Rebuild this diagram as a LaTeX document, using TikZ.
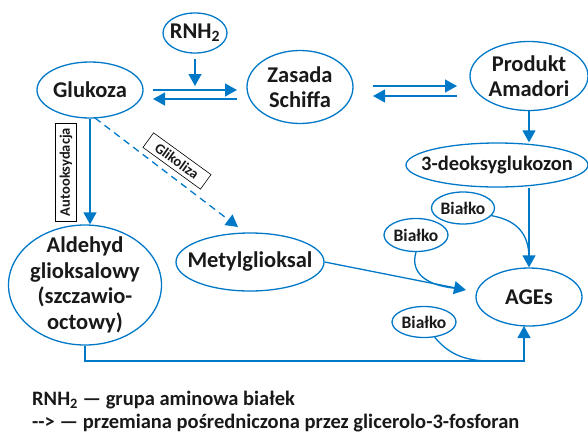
\documentclass[tikz,border=0pt]{standalone}
\usepackage{fontspec}
\setmainfont{Carlito}
\usetikzlibrary{arrows.meta,shapes.geometric}
\definecolor{lblue}{RGB}{0,120,200}
\begin{document}
\begin{tikzpicture}[x=1pt,y=-1pt,
  ell/.style={draw=lblue,line width=1.3pt,ellipse,inner sep=0pt},
  txt/.style={inner sep=0pt,align=center,font=\bfseries\fontsize{22.5}{25.5}\selectfont,text=black!90},
  btxt/.style={txt,font=\bfseries\fontsize{17.5}{19}\selectfont},
  con/.style={draw=lblue,line width=1.3pt},
  arr/.style={con,-{Triangle[length=12pt,width=13pt]}},
  lab/.style={draw=black,line width=0.6pt,inner sep=1pt,font=\bfseries\fontsize{14.5}{15}\selectfont,text=black!90},
  leg/.style={anchor=west,inner sep=0pt,font=\bfseries\fontsize{20.5}{22}\selectfont,text=black!90}]
\useasboundingbox (0,0) rectangle (588,434);

\node[ell,minimum width=64pt,minimum height=40pt] (rnh) at (195,33) {};
\node[txt] (rnhT) at (rnh) {RNH\textsubscript{2}};
\node[ell,minimum width=106pt,minimum height=56pt] (glu) at (90,90) {};
\node[txt] (gluT) at (glu) {Glukoza};
\node[ell,minimum width=106pt,minimum height=73pt] (zas) at (300,87) {};
\node[txt] (zasT) at (zas) {Zasada\\Schiffa};
\node[ell,minimum width=118pt,minimum height=69pt] (ama) at (529,76) {};
\node[txt] (amaT) at (ama) {Produkt\\Amadori};
\node[ell,minimum width=182pt,minimum height=44pt] (deo) at (497,165) {};
\node[txt,font=\bfseries\fontsize{20.5}{22}\selectfont] (deoT) at (deo) {3-deoksyglukozon};
\node[ell,minimum width=106pt,minimum height=58pt] (ages) at (529,297) {};
\node[txt] (agesT) at (ages) {AGEs};
\node[ell,minimum width=63pt,minimum height=32pt] (b1) at (463,208) {};
\node[btxt] (b1T) at (b1) {Białko};
\node[ell,minimum width=64pt,minimum height=33pt] (b2) at (416,235) {};
\node[btxt] (b2T) at (b2) {Białko};
\node[ell,minimum width=64pt,minimum height=31pt] (b3) at (424,322) {};
\node[btxt] (b3T) at (b3) {Białko};
\node[ell,minimum width=148pt,minimum height=58pt] (met) at (250,262) {};
\node[txt] (metT) at (met) {Metylglioksal};
\node[ell,minimum width=153pt,minimum height=120pt] (ald) at (85,285) {};
\node[txt] (aldT) at (ald) {Aldehyd\\glioksalowy\\(szczawio-\\octowy)};

% Glukoza <-> Zasada
\coordinate (g1) at (153,90); \coordinate (z1) at (237,90);
\coordinate (g2) at (153,99); \coordinate (z2) at (237,99);
\draw[arr] (g1) -- (z1);
\draw[arr] (z2) -- (g2);
\coordinate (rtip) at (195,86);
\draw[arr] ([yshift=-5pt]rnh.south) -- (rtip);

% Zasada <-> Amadori
\coordinate (z3) at (373,86); \coordinate (a3) at (457,86);
\coordinate (z4) at (373,96); \coordinate (a4) at (457,96);
\draw[arr] (z3) -- (a3);
\draw[arr] (a4) -- (z4);

\draw[arr] (ama.south) -- (deo.north -| ama.south);
\draw[arr] (deo.south -| ama.south) -- (ama.south |- ages.north);
\draw[con] (b1.-15) .. controls (515,220) and (529,232) .. (529,258);

% Metylglioksal -> AGEs
\coordinate (mtip) at (466,290);
\draw[arr] (met.east) -- (mtip);
\draw[con] (b2.south) .. controls (410,272) and (425,286) .. (458,288.5);

% Aldehyd -> AGEs
\coordinate (c1) at (85,361); \coordinate (c2) at (524,361); \coordinate (c3) at (524,326);
\draw[arr] (ald.south) -- (c1) -- (c2) -- (c3);
\draw[con] (b3.-55) .. controls (447,352) and (462,361) .. (490,361);

% Glukoza -> Aldehyd
\draw[arr] (glu.south) -- (glu.south |- ald.north);
\node[lab,rotate=90,minimum width=98pt,minimum height=21pt] (auto) at (66,172) {Autooksydacja};

% Glukoza -> Metylglioksal (dashed)
\coordinate (gs) at (95,118); \coordinate (mt) at (238,227);
\draw[arr,dash pattern=on 7pt off 5pt] (gs) -- (mt);
\node[lab,rotate=-36,minimum width=71pt,minimum height=18pt] (glik) at (177,161) {Glikoliza};

% legend
\node[leg] (l1) at (32,400) {RNH\textsubscript{2} — grupa aminowa białek};
\node[leg] (l2) at (32,423) {-{}-> — przemiana pośredniczona przez glicerolo-3-fosforan};
\end{tikzpicture}
\end{document}
